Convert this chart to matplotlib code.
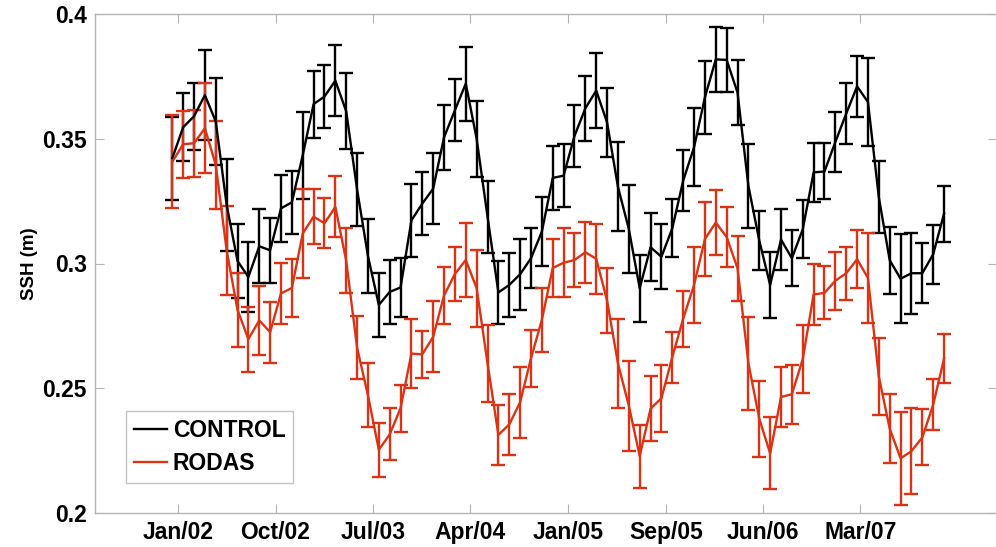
import numpy as np
import matplotlib
matplotlib.use('Agg')
from matplotlib import pyplot as plt
from matplotlib.lines import Line2D

# monthly SSH, Jan/02 .. Dec/07
control = [0.3422, 0.3546, 0.3590, 0.3675, 0.3569, 0.3235, 0.3010, 0.2946, 0.3069, 0.3053,
           0.3221, 0.3245, 0.3434, 0.3639, 0.3669, 0.3733, 0.3610, 0.3297, 0.3030, 0.2834,
           0.2886, 0.2904, 0.3173, 0.3240, 0.3300, 0.3506, 0.3614, 0.3721, 0.3500, 0.3188,
           0.2884, 0.2914, 0.2957, 0.3021, 0.3128, 0.3343, 0.3352, 0.3511, 0.3622, 0.3693,
           0.3565, 0.3307, 0.3138, 0.2901, 0.3065, 0.3027, 0.3141, 0.3332, 0.3466, 0.3666,
           0.3818, 0.3816, 0.3685, 0.3311, 0.3092, 0.2914, 0.3096, 0.3021, 0.3137, 0.3365,
           0.3369, 0.3487, 0.3601, 0.3710, 0.3647, 0.3265, 0.3013, 0.2939, 0.2961, 0.2961,
           0.3037, 0.3200]
control_err = [0.0167, 0.0136, 0.0135, 0.0180, 0.0176, 0.0183, 0.0148, 0.0139, 0.0148, 0.0131,
               0.0134, 0.0127, 0.0175, 0.0134, 0.0127, 0.0143, 0.0152, 0.0147, 0.0147, 0.0127,
               0.0128, 0.0120, 0.0146, 0.0126, 0.0142, 0.0131, 0.0124, 0.0148, 0.0152, 0.0144,
               0.0127, 0.0127, 0.0142, 0.0120, 0.0138, 0.0128, 0.0127, 0.0124, 0.0130, 0.0150,
               0.0138, 0.0178, 0.0176, 0.0134, 0.0136, 0.0130, 0.0116, 0.0123, 0.0156, 0.0147,
               0.0130, 0.0128, 0.0129, 0.0169, 0.0117, 0.0132, 0.0122, 0.0112, 0.0116, 0.0117,
               0.0112, 0.0122, 0.0122, 0.0122, 0.0176, 0.0144, 0.0135, 0.0179, 0.0163, 0.0120,
               0.0118, 0.0112]
rodas = [0.3408, 0.3478, 0.3482, 0.3542, 0.3395, 0.3053, 0.2814, 0.2697, 0.2772, 0.2725,
         0.2880, 0.2902, 0.3120, 0.3188, 0.3161, 0.3227, 0.3011, 0.2663, 0.2472, 0.2253,
         0.2315, 0.2420, 0.2639, 0.2636, 0.2706, 0.2872, 0.2958, 0.3014, 0.2901, 0.2600,
         0.2313, 0.2355, 0.2444, 0.2620, 0.2774, 0.2982, 0.3003, 0.3014, 0.3045, 0.3019,
         0.2851, 0.2599, 0.2430, 0.2228, 0.2418, 0.2460, 0.2625, 0.2779, 0.2914, 0.3098,
         0.3164, 0.3106, 0.2981, 0.2600, 0.2378, 0.2239, 0.2465, 0.2476, 0.2617, 0.2876,
         0.2882, 0.2931, 0.2961, 0.3017, 0.2942, 0.2546, 0.2338, 0.2219, 0.2248, 0.2303,
         0.2434, 0.2619]
rodas_err = [0.0187, 0.0135, 0.0134, 0.0180, 0.0178, 0.0178, 0.0147, 0.0130, 0.0138, 0.0122,
             0.0123, 0.0115, 0.0180, 0.0110, 0.0100, 0.0122, 0.0130, 0.0127, 0.0128, 0.0107,
             0.0104, 0.0094, 0.0138, 0.0095, 0.0142, 0.0115, 0.0110, 0.0150, 0.0154, 0.0154,
             0.0120, 0.0123, 0.0143, 0.0114, 0.0127, 0.0115, 0.0138, 0.0110, 0.0123, 0.0140,
             0.0131, 0.0178, 0.0180, 0.0126, 0.0131, 0.0134, 0.0102, 0.0112, 0.0154, 0.0150,
             0.0130, 0.0119, 0.0130, 0.0187, 0.0152, 0.0144, 0.0119, 0.0118, 0.0137, 0.0122,
             0.0106, 0.0117, 0.0107, 0.0116, 0.0179, 0.0154, 0.0139, 0.0187, 0.0172, 0.0112,
             0.0102, 0.0099]
tick_labels = ['Jan/02', 'Oct/02', 'Jul/03', 'Apr/04', 'Jan/05', 'Sep/05', 'Jun/06', 'Mar/07']
tick_months = [0.5, 9.5, 18.5, 27.4, 36.4, 45.4, 54.3, 63.3]
y_ticks = [0.2, 0.25, 0.3, 0.35, 0.4]

plt.rcParams['font.family'] = ['Liberation Sans', 'DejaVu Sans']
red = '#dd3214'
grey = '#b4b4b4'

month = np.arange(len(control))
fig = plt.figure(figsize=(9.96, 5.47), dpi=100)
axis = fig.add_axes([95 / 996, 1 - 513 / 547, 902 / 996, 499 / 547])

axis.errorbar(month, control, yerr=control_err, color='black', linewidth=1.7,
              elinewidth=1.7, capsize=5.2, capthick=1.7)
axis.errorbar(month, rodas, yerr=rodas_err, color=red, linewidth=1.7,
              elinewidth=1.7, capsize=5.2, capthick=1.7)

axis.set_xlim(-7.11, 75.87)
axis.set_ylim(0.2, 0.4)
axis.set_xticks(tick_months)
axis.set_xticklabels(tick_labels, fontsize=16.5, fontweight='bold')
axis.set_yticks(y_ticks)
axis.set_yticklabels(['%g' % v for v in y_ticks], fontsize=16.5, fontweight='bold')
axis.tick_params(direction='in', length=6.5, width=0.8, color=grey, top=True, right=True, pad=6)
for spine in axis.spines.values():
    spine.set_color(grey)
    spine.set_linewidth(1.0)
axis.set_ylabel('SSH (m)', fontsize=13.5, fontweight='bold')
axis.yaxis.set_label_coords(-0.063, 0.5)

handles = [Line2D([], [], color='black', linewidth=1.7), Line2D([], [], color=red, linewidth=1.7)]
legend = axis.legend(handles, ['CONTROL', 'RODAS'], loc='lower left', bbox_to_anchor=(0.034, 0.06),
                     borderaxespad=0, fancybox=False, edgecolor=grey, handlelength=1.45,
                     handletextpad=0.25, borderpad=0.35, labelspacing=0.45,
                     prop={'size': 16.5, 'weight': 'bold'})
legend.get_frame().set_linewidth(1.0)

fig.savefig('out.png', dpi=100)
